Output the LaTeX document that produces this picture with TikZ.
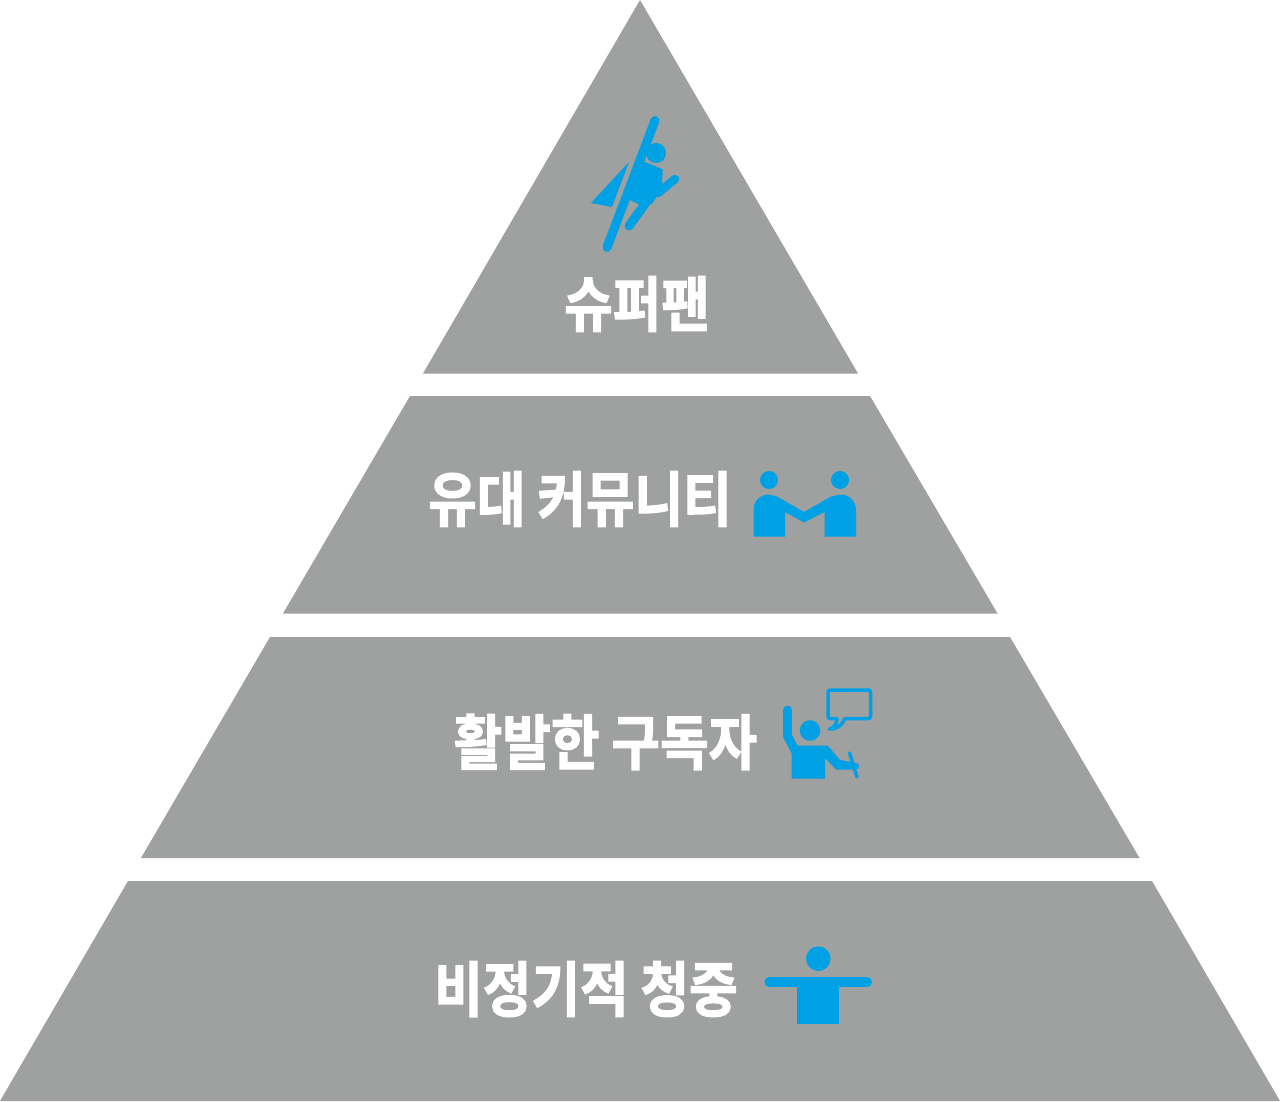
\documentclass[tikz,border=0pt]{standalone}
\usepackage{fontspec}
\newfontfamily\krfont[FakeBold=2]{Noto Sans CJK KR Bold}
\definecolor{tiergray}{HTML}{9FA0A0}
\definecolor{iconblue}{HTML}{00A0E4}
\tikzset{
	tier/.style={fill=tiergray},
	icon/.style={fill=iconblue},
	limb/.style={draw=iconblue,line cap=round,line join=round},
	tierlabel/.style={text=white,font=\krfont\fontsize{60}{72}\selectfont,xscale=0.88,transform shape,inner sep=0pt}
}

\begin{document}
\begin{tikzpicture}[x=1pt,y=-1pt]
				\useasboundingbox (0,0) rectangle (1280,1101);
				
				\fill[tier] (640,0) -- (858,373.5) -- (423,373.5) -- cycle;
				\fill[tier] (410,396) -- (870,396) -- (997.5,613.5) -- (283,613.5) -- cycle;
				\fill[tier] (270,637) -- (1010,637) -- (1139.5,858) -- (141,858) -- cycle;
				\fill[tier] (128,881) -- (1152,881) -- (1280,1101) -- (0,1101) -- cycle;
				
				\node[tierlabel] (superfan) at (637,304) {슈퍼팬};
				\node[tierlabel] (paid) at (580,499) {유대 커뮤니티};
				\node[tierlabel] (active) at (605.5,742) {활발한 구독자};
				\node[tierlabel] (casual) at (586,989) {비정기적 청중};
				
				\draw[limb,line width=9pt] (655,120.5) -- (607,247.5);
				\fill[icon] (656,153) circle (10);
				\fill[icon] (629,162) -- (591,203) -- (612,207) -- cycle;
				\fill[icon] (640,160) -- (662.7,169.3) -- (662,188) -- (657,196) -- (652,204) -- (638,204) -- (626,198) -- cycle;
				\draw[limb,line width=9pt] (647,201) -- (629,226);
				\draw[limb,line width=8.5pt] (658,193) -- (675,179);
				
				\fill[icon] (769,480) circle (9);
				\fill[icon] (840,480) circle (9);
				\fill[icon] (753.5,536.5) -- (753.5,510) .. controls (753.5,501) and (760,494.5) .. (769,494.5) -- (777,496.5) -- (804,512) -- (831,496.5) -- (840.5,494.5) .. controls (849,494.5) and (856,501) .. (856,510) -- (856,536.5) -- (824.5,536.5) -- (824.5,512) -- (804,522.5) -- (785,512) -- (785,536.5) -- cycle;
				
				\fill[icon] (810,730.5) circle (10.3);
				\draw[limb,line width=8.8pt] (787.5,710) -- (787.5,736) -- (796,752);
				\fill[icon] (796,745.5) -- (827.5,745.5) -- (840,760) -- (856,763) .. controls (860,763) and (860,769.5) .. (856,769.5) -- (836,769.5) -- (825,758) -- (825,778.5) -- (791.5,778.5) -- (791.5,752) -- cycle;
				\draw[limb,line width=3.5pt] (849.5,753) -- (857,777);
				\draw[draw=iconblue,line width=3.5pt,line join=round,rounded corners=2pt] (837,718.5) -- (828,718.5) -- (828,690) -- (870.5,690) -- (870.5,718.5) -- (845,718.5);
				\draw[draw=iconblue,line width=3.5pt,line join=round,line cap=round] (837,718.5) .. controls (837,724) and (834,727) .. (829.5,729) .. controls (837,729.5) and (842,725) .. (845,718.5);
				
				\fill[icon] (818.3,958.7) circle (12.3);
				\draw[limb,line width=10.3pt] (769.5,982.2) -- (866.8,982.2);
				\fill[icon] (797,982) rectangle (839.3,1023.7);
			\end{tikzpicture}
\end{document}
